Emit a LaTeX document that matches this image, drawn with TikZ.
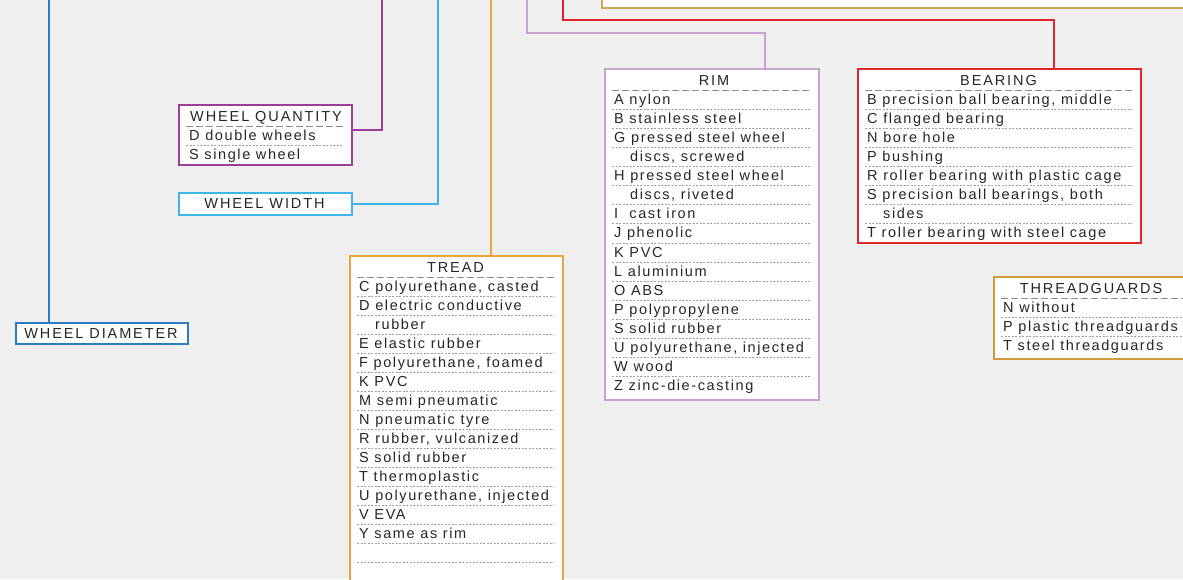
\documentclass[tikz,border=0pt]{standalone}
\usepackage{fontspec}
\setmainfont{Liberation Sans}[LetterSpace=11]
\newfontfamily\titlefont{Liberation Sans}[LetterSpace=13]
\usetikzlibrary{calc}
\definecolor{bg}{HTML}{EFEFEF}
\definecolor{cblue}{HTML}{2B7BC0}
\definecolor{cpurple}{HTML}{9A3E97}
\definecolor{ccyan}{HTML}{3DB5E6}
\definecolor{corange}{HTML}{EBA53C}
\definecolor{clilac}{HTML}{C7A2D0}
\definecolor{cred}{HTML}{E0242B}
\definecolor{ctan}{HTML}{D29A3E}
\definecolor{ctop}{HTML}{CDA45A}
\definecolor{txt}{HTML}{262626}
\definecolor{dashc}{HTML}{8C8C8C}
\definecolor{dotc}{HTML}{A0A0A0}
\begin{document}
\begin{tikzpicture}[x=1pt,y=-1pt,
  box/.style={draw=#1, line width=2pt, fill=white, inner sep=0pt, anchor=north west},
  link/.style={draw=#1, line width=1.5pt},
  row/.style={inner sep=0pt, anchor=base west, font=\fontsize{14.5}{16}\selectfont, text=txt},
  ttl/.style={inner sep=0pt, anchor=base, font=\titlefont\fontsize{14.5}{16}\selectfont, text=txt},
  dashline/.style={draw=dashc, line width=1pt, dash pattern=on 7pt off 3pt},
  dotline/.style={draw=dotc, line width=0.8pt, dash pattern=on 2pt off 1.5pt}]
\useasboundingbox (0,0) rectangle (1183,579);
\clip (0,0) rectangle (1183,579);
\fill[bg] (0,0) rectangle (1183,579);

% top partial box
\node[box=ctop, line width=1.5pt, minimum width=700pt, minimum height=207pt] (top) at (601,-200) {};

% boxes
\node[box=cpurple, minimum width=173pt, minimum height=60pt] (wq) at (178,104) {};
\node[box=ccyan, minimum width=173pt, minimum height=22pt] (ww) at (178,192) {};
\node[box=cblue, minimum width=172pt, minimum height=21pt] (wd) at (15,322) {};
\node[box=corange, minimum width=213pt, minimum height=400pt] (tr) at (349,255) {};
\node[box=clilac, minimum width=214pt, minimum height=331pt] (rim) at (604,68) {};
\node[box=cred, minimum width=283pt, minimum height=174pt] (br) at (857,68) {};
\node[box=ctan, minimum width=300pt, minimum height=82pt] (tg) at (993,276) {};

% connectors
\coordinate (da) at (49,-5);
\draw[link=cblue] (da) -- ([xshift=34pt]wd.north west);
\coordinate (qa) at (382,-5);
\draw[link=cpurple] (qa) |- ([yshift=-26pt]wq.north east);
\coordinate (wa) at (438,-5);
\draw[link=ccyan] (wa) |- (ww.east);
\coordinate (ta) at (491,-5);
\draw[link=corange] (ta) -- ([xshift=142pt]tr.north west);
\coordinate (ra) at (527,-5);
\coordinate (rb) at (527,33);
\draw[link=clilac] (ra) -- (rb) -| ([xshift=161pt]rim.north west);
\coordinate (ba) at (563,-5);
\coordinate (bb) at (563,20);
\draw[link=cred] (ba) -- (bb) -| ([xshift=197pt]br.north west);

% WHEEL QUANTITY
\node[ttl] (wqt) at (266,121) {WHEEL QUANTITY};
\draw[dashline] (186,126) -- (343,126);
\node[row] (wq0) at (189,140) {D double wheels};
\draw[dotline] (186,145) -- (343,145);
\node[row] (wq1) at (189,159) {S single wheel};

% WHEEL WIDTH / DIAMETER
\node[ttl] (wwt) at (264.5,208.5) {WHEEL WIDTH};
\node[ttl] (wdt) at (101,338) {WHEEL DIAMETER};

% TREAD
\node[ttl] (trt) at (455.5,272) {TREAD};
\draw[dashline] (357,277) -- (554,277);
\foreach \t [count=\i from 0] in {{C polyurethane, casted},{D electric conductive},{\hspace*{16pt}rubber},{E elastic rubber},{F polyurethane, foamed},{K PVC},{M semi pneumatic},{N pneumatic tyre},{R rubber, vulcanized},{S solid rubber},{T thermoplastic},{U polyurethane, injected},{V EVA},{Y same as rim}}
  \node[row] (tr\i) at (359,{291+19*\i}) {\t};
\foreach \i in {0,...,14}
  \draw[dotline] (357,{296+19*\i}) -- (554,{296+19*\i});

% RIM
\node[ttl] (rimt) at (714,85) {RIM};
\draw[dashline] (612,90) -- (810,90);
\foreach \t [count=\i from 0] in {{A nylon},{B stainless steel},{G pressed steel wheel},{\hspace*{16pt}discs, screwed},{H pressed steel wheel},{\hspace*{16pt}discs, riveted},{I\ \ cast iron},{J phenolic},{K PVC},{L aluminium},{O ABS},{P polypropylene},{S solid rubber},{U polyurethane, injected},{W wood},{Z zinc-die-casting}}
  \node[row] (rim\i) at (614,{104+19.13*\i}) {\t};
\foreach \i in {0,...,14}
  \draw[dotline] (612,{109+19.13*\i}) -- (810,{109+19.13*\i});

% BEARING
\node[ttl] (brt) at (998.5,85) {BEARING};
\draw[dashline] (865,90) -- (1132,90);
\foreach \t [count=\i from 0] in {{B precision ball bearing, middle},{C flanged bearing},{N bore hole},{P bushing},{R roller bearing with plastic cage},{S precision ball bearings, both},{\hspace*{16pt}sides},{T roller bearing with steel cage}}
  \node[row] (br\i) at (867,{104+19*\i}) {\t};
\foreach \i in {0,...,6}
  \draw[dotline] (865,{109+19*\i}) -- (1132,{109+19*\i});

% THREADGUARDS
\node[ttl] (tgt) at (1091,293) {THREADGUARDS};
\draw[dashline] (1001,298) -- (1190,298);
\foreach \t [count=\i from 0] in {{N without},{P plastic threadguards},{T steel threadguards}}
  \node[row] (tg\i) at (1003,{312+19*\i}) {\t};
\foreach \i in {0,1}
  \draw[dotline] (1001,{317+19*\i}) -- (1190,{317+19*\i});
\end{tikzpicture}
\end{document}
